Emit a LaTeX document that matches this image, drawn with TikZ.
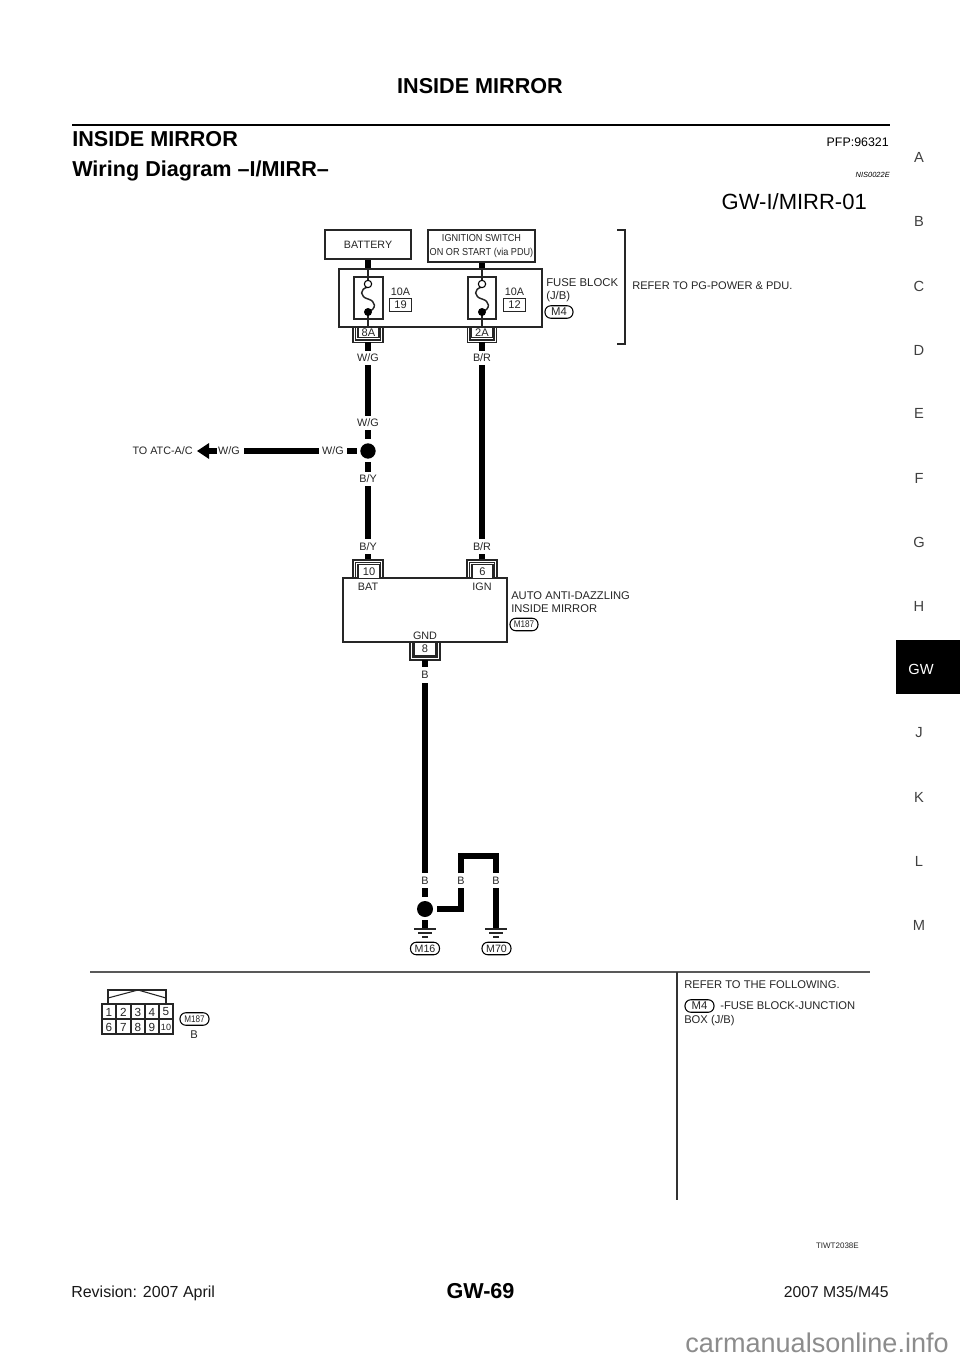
\documentclass[tikz,border=0pt]{standalone}
\usepackage{fontspec}
\setmainfont{Liberation Sans}
\tikzset{
  px/.style={x=0.75pt,y=-0.75pt},
  wire/.style={line width=5.2pt,black},
  thin box/.style={draw=black!85,line width=0.8pt,fill=white},
  thinln/.style={draw=black!85,line width=0.8pt},
  dlbl/.style={inner sep=0pt,font=\fontsize{8.1}{9}\selectfont,text=black!85},
  wide/.style={inner sep=0pt,font=\fontsize{8.4}{10}\selectfont,text=black!85},
  num/.style={inner sep=0pt,font=\fontsize{8.3}{9}\selectfont,text=black!85},
  oval/.style={draw=black,line width=0.8pt,rounded corners=4.4pt,inner sep=0pt,minimum height=9.4pt,font=\fontsize{8}{9}\selectfont,text=black!85},
  side/.style={inner sep=0pt,font=\fontsize{11}{12}\selectfont,text=black!75},
  foot/.style={inner sep=0pt,font=\fontsize{11.8}{13}\selectfont,text=black!90},
  heading/.style={inner sep=0pt,font=\bfseries\fontsize{16.2}{18}\selectfont},
}
\begin{document}
\begin{tikzpicture}[px]
\useasboundingbox (0,0) rectangle (960,1358);
\fill[white] (0,0) rectangle (960,1358);
% header
\node[heading] (title) at (480,86) {INSIDE MIRROR};
\coordinate (ruleL) at (72,125); \coordinate (ruleR) at (890,125);
\draw[line width=2.2pt] (ruleL) -- (ruleR);
\node[heading,anchor=west] (h1) at (72,139.5) {INSIDE MIRROR};
\node[inner sep=0pt,anchor=east,font=\fontsize{9.3}{10}\selectfont] (pfp) at (889,142) {PFP:96321};
\node[heading,anchor=base west] (h2) at (72,177) {Wiring Diagram –I/MIRR–};
\node[inner sep=0pt,anchor=east,font=\itshape\fontsize{5.6}{6}\selectfont] (nis) at (890,174.5) {NIS0022E};
\node[inner sep=0pt,anchor=east,font=\fontsize{16.5}{18}\selectfont] (gwid) at (867,202) {GW-I/MIRR-01};
% side index
\foreach \t/\y in {A/157,B/221,C/286,D/350,E/413,F/478,G/542,H/606,J/733,K/797,L/861,M/925}
  \node[side] (s\t) at (919,\y) {\t};
\fill[black] (896,640) rectangle (960,694);
\node[inner sep=0pt,text=white,font=\fontsize{11}{12}\selectfont] (sGW) at (921,669) {GW};
% wires top
\coordinate (w1a) at (368,259); \coordinate (w1b) at (368,269);
\coordinate (w2a) at (482,262); \coordinate (w2b) at (482,269);
\draw[wire] (w1a) -- (w1b); \draw[wire] (w2a) -- (w2b);
% top boxes
\node[thin box,minimum width=64.5pt,minimum height=21.75pt,inner sep=0pt,font=\fontsize{8}{9}\selectfont,text=black!85] (bat) at (368,244.5) {BATTERY};
\node[thin box,minimum width=80.25pt,minimum height=24pt,inner sep=0pt,align=center,font=\fontsize{7.6}{10}\selectfont,text=black!85] (ign) at (481.5,246) {\scalebox{.9}[1]{IGNITION SWITCH}\\\scalebox{.9}[1]{ON OR START (via PDU)}};
% fuse block
\node[thin box,minimum width=152.25pt,minimum height=43.5pt,inner sep=0pt] (fb) at (440.5,298) {};
\node[thin box,minimum width=21.75pt,minimum height=31.5pt,inner sep=0pt] (f1) at (368.5,298) {};
\node[thin box,minimum width=21pt,minimum height=31.5pt,inner sep=0pt] (f2) at (482,298) {};
\foreach \n/\x in {a/368,b/482}{
  \draw[thinln] (\x,269) -- (\x,280);
  \draw[thinln] (\x,312) -- (\x,327);
  \draw[thinln,line width=1.1pt] (\x,287) .. controls (\x-9,289) and (\x-8,297) .. (\x,299) .. controls (\x+8,301) and (\x+9,309) .. (\x,312);
  \node[circle,draw=black,fill=white,line width=0.8pt,inner sep=0pt,minimum size=5.5pt] (o\n) at (\x,284) {};
  \node[circle,fill=black,inner sep=0pt,minimum size=6pt] (d\n) at (\x,312) {};
}
\node[dlbl] (a10a) at (400.5,292) {10A};
\node[thin box,minimum width=16pt,minimum height=9.8pt,inner sep=0pt,num] (n19) at (400.5,305) {19};
\node[dlbl] (a10b) at (514.5,292) {10A};
\node[thin box,minimum width=16pt,minimum height=9.8pt,inner sep=0pt,num] (n12) at (514.5,305) {12};
\node[wide,anchor=west,align=left,font=\fontsize{8.5}{10}\selectfont] (fbt) at (546,290) {FUSE BLOCK\\(J/B)};
\node[oval,minimum width=21pt,font=\fontsize{8.5}{9}\selectfont] (m4a) at (559,312) {M4};
% connectors under fuses
\node[thin box,minimum width=15.75pt,minimum height=7.8pt,inner sep=0pt,num] (c8a) at (368.5,332.5) {8A};
\node[thin box,minimum width=15.75pt,minimum height=7.8pt,inner sep=0pt,num] (c2a) at (482,332.5) {2A};
\draw[thinln] (353,327) |- (383,342.5) -- (383,327);
\draw[thinln] (467.5,327) |- (496.5,342.5) -- (496.5,327);
\draw[thinln] (355.5,327) |- (380.5,340) -- (380.5,327);
\draw[thinln] (470,327) |- (494,340) -- (494,327);
% bracket
\draw[line width=1pt,black!85] (617,230) -- (625,230) -- (625,344) -- (617,344);
\node[wide,anchor=west,font=\fontsize{8.3}{10}\selectfont] (refpg) at (632,286) {REFER TO PG-POWER \& PDU.};
% wires left
\coordinate (p1) at (368,342); \coordinate (p2) at (368,351);
\draw[wire] (p1) -- (p2);
\node[dlbl] (l1) at (368,358) {W/G};
\coordinate (p3) at (368,365); \coordinate (p4) at (368,416);
\draw[wire] (p3) -- (p4);
\node[dlbl] (l2) at (368,423) {W/G};
\coordinate (p5) at (368,430); \coordinate (p6) at (368,439);
\draw[wire] (p5) -- (p6);
\node[circle,fill=black,inner sep=0pt,minimum size=11.5pt] (j1) at (368,451) {};
\coordinate (p7) at (368,462); \coordinate (p8) at (368,472);
\draw[wire] (p7) -- (p8);
\node[dlbl] (l3) at (368,479) {B/Y};
\coordinate (p9) at (368,486); \coordinate (p10) at (368,539);
\draw[wire] (p9) -- (p10);
\node[dlbl] (l4) at (368,547) {B/Y};
\coordinate (p11) at (368,554); \coordinate (p12) at (368,560);
\draw[wire] (p11) -- (p12);
% branch
\coordinate (h1a) at (347,451); \coordinate (h1b) at (357,451);
\draw[wire] (h1a) -- (h1b);
\node[dlbl] (l5) at (333,451) {W/G};
\coordinate (h2a) at (244,451); \coordinate (h2b) at (319,451);
\draw[wire] (h2a) -- (h2b);
\node[dlbl] (l6) at (229,451) {W/G};
\coordinate (ar1) at (217,451); \coordinate (ar2) at (209,451); \coordinate (ar3) at (197,451);
\draw[wire] (ar1) -- (ar2);
\fill[black] (ar3) -- (209,443) -- (209,459) -- cycle;
\node[dlbl,anchor=east] (l7) at (193,451) {TO ATC-A/C};
% wires right
\coordinate (q1) at (482,342); \coordinate (q2) at (482,351);
\draw[wire] (q1) -- (q2);
\node[dlbl] (r1) at (482,358) {B/R};
\coordinate (q3) at (482,365); \coordinate (q4) at (482,539);
\draw[wire] (q3) -- (q4);
\node[dlbl] (r2) at (482,547) {B/R};
\coordinate (q5) at (482,554); \coordinate (q6) at (482,560);
\draw[wire] (q5) -- (q6);
% mirror
\node[thin box,minimum width=123pt,minimum height=48pt,inner sep=0pt] (mir) at (425,610) {};
\node[thin box,minimum width=16.5pt,minimum height=10pt,inner sep=0pt,num] (c10) at (369,571.5) {10};
\node[thin box,minimum width=15.75pt,minimum height=10pt,inner sep=0pt,num] (c6) at (482.5,571.5) {6};
\node[thin box,minimum width=16.5pt,minimum height=10.5pt,inner sep=0pt,num] (c8) at (425,649) {8};
\draw[thinln] (353,578) |- (383,560) -- (383,578);
\draw[thinln] (467,578) |- (497,560) -- (497,578);
\draw[thinln] (355.5,578) |- (380.5,562.5) -- (380.5,578);
\draw[thinln] (469.5,578) |- (494.5,562.5) -- (494.5,578);
\draw[thinln] (410,642) |- (440,660) -- (440,642);
\draw[thinln] (412.5,642) |- (437.5,657.5) -- (437.5,642);
\node[dlbl] (bat2) at (368,587) {BAT};
\node[dlbl] (ign2) at (482,587) {IGN};
\node[dlbl] (gnd) at (425,636) {GND};
\node[wide,anchor=west,align=left] (mt) at (511,602) {AUTO ANTI-DAZZLING\\INSIDE MIRROR};
\node[oval,minimum width=21pt,font=\fontsize{7.2}{8}\selectfont] (m187) at (524,624.5) {\scalebox{.85}[1]{M187}};
% ground wires
\coordinate (g1) at (425,660); \coordinate (g2) at (425,667);
\draw[wire] (g1) -- (g2);
\node[dlbl] (b1) at (425,675) {B};
\coordinate (g3) at (425,683); \coordinate (g4) at (425,873);
\draw[wire] (g3) -- (g4);
\node[dlbl] (b2) at (425,881) {B};
\coordinate (g5) at (425,888); \coordinate (g6) at (425,897);
\draw[wire] (g5) -- (g6);
\node[circle,fill=black,inner sep=0pt,minimum size=12pt] (j2) at (425,909) {};
\coordinate (g7) at (425,920); \coordinate (g8) at (425,929);
\draw[wire] (g7) -- (g8);
\coordinate (k1) at (437,909); \coordinate (k2) at (461,909); \coordinate (k3) at (461,888);
\draw[wire,miter limit=10] (k1) -- (k2) -- (k3);
\node[dlbl] (b3) at (461,881) {B};
\coordinate (u1) at (461,873); \coordinate (u2) at (461,856); \coordinate (u3) at (496,856); \coordinate (u4) at (496,873);
\draw[wire,miter limit=10] (u1) -- (u2) -- (u3) -- (u4);
\node[dlbl] (b4) at (496,881) {B};
\coordinate (v1) at (496,888); \coordinate (v2) at (496,929);
\draw[wire] (v1) -- (v2);
\foreach \x in {425,496}{
  \draw[thinln] (\x-11,929) -- (\x+11,929);
  \draw[thinln] (\x-7,933) -- (\x+7,933);
  \draw[thinln] (\x-3,937) -- (\x+3,937);
}
\node[oval,minimum width=21.75pt] (m16) at (425,948.5) {M16};
\node[oval,minimum width=21.75pt] (m70) at (496.5,948.5) {M70};
% lower panel
\coordinate (hrL) at (90,972); \coordinate (hrR) at (870,972);
\draw[line width=1.3pt,black!65] (hrL) -- (hrR);
\coordinate (vt) at (677,972); \coordinate (vb) at (677,1200);
\draw[line width=0.9pt,black!80] (vt) -- (vb);
\node[wide,anchor=west] (rf) at (684,985) {REFER TO THE FOLLOWING.};
\node[oval,minimum width=21.75pt,font=\fontsize{8.5}{9}\selectfont] (m4b) at (699.5,1006) {M4};
\node[wide,anchor=west] (rf2) at (720,1006) {-FUSE BLOCK-JUNCTION};
\node[wide,anchor=west] (rf3) at (684,1021) {BOX (J/B)};
% connector face
\draw[thinln] (108,1004) -- (108,990) -- (166,990) -- (166,1004);
\draw[thinln] (108,998) -- (138,990) -- (166,998);
\draw[thinln] (102,1004) rectangle (173,1034);
\draw[thinln] (102,1019) -- (173,1019);
\foreach \x in {116,131,145,159} \draw[thinln] (\x,1004) -- (\x,1034);
\foreach \n/\x in {1/109,2/123.5,3/138,4/152,5/166}
  \node[num,font=\fontsize{8.8}{9}\selectfont] (t\n) at (\x,1012) {\n};
\foreach \n/\x in {6/109,7/123.5,8/138,9/152}
  \node[num,font=\fontsize{8.8}{9}\selectfont] (t\n) at (\x,1027) {\n};
\node[num,font=\fontsize{6.8}{7}\selectfont] (t10) at (166,1027) {10};
\node[oval,minimum width=21.75pt,font=\fontsize{7.2}{8}\selectfont] (m187b) at (194.5,1019) {\scalebox{.85}[1]{M187}};
\node[wide] (bb) at (194,1035) {B};
% footer
\node[inner sep=0pt,anchor=east,font=\fontsize{6}{7}\selectfont,text=black!85] (tiwt) at (859,1246) {TIWT2038E};
\node[foot,anchor=base west,font=\fontsize{12}{13}\selectfont] (fa) at (71,1297.5) {Revision: 2007 April};
\node[heading,anchor=base] (fb2) at (480.5,1298) {GW-69};
\node[foot,anchor=base east] (fc) at (889,1297.5) {2007 M35/M45};
\node[inner sep=0pt,anchor=base east,text=black!45,font=\fontsize{20.3}{22}\selectfont] (wm) at (949,1352) {carmanualsonline.info};
\end{tikzpicture}
\end{document}
